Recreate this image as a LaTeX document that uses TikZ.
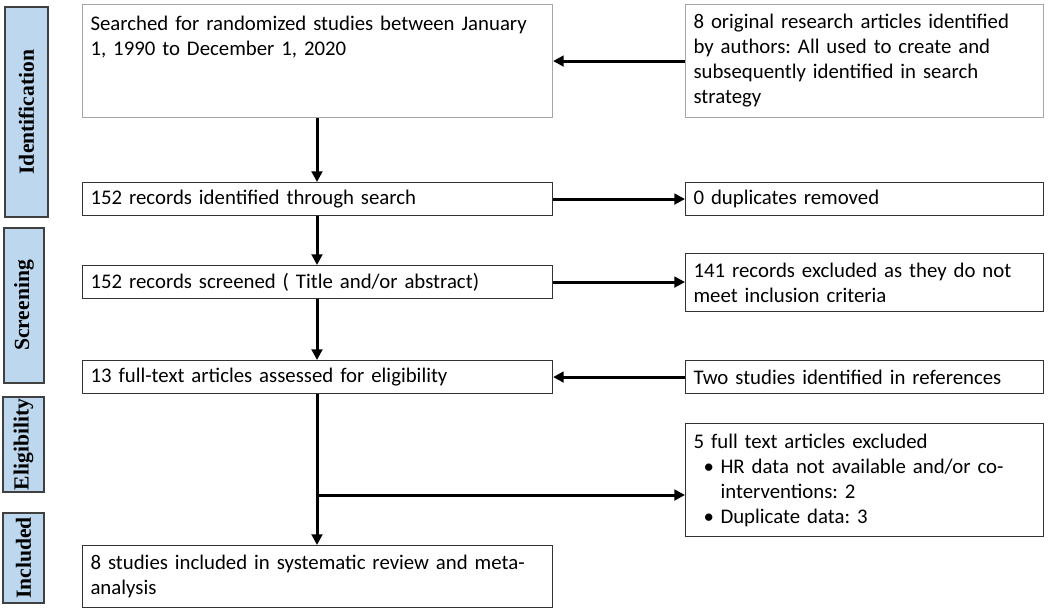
\documentclass[tikz,border=0pt]{standalone}
\usepackage{fontspec}
\setmainfont{Carlito}
\newfontfamily\sidefont{Liberation Serif}
\usetikzlibrary{arrows.meta, positioning}
\definecolor{phaseblue}{HTML}{BDD7EE}
\definecolor{lightline}{HTML}{A6A6A6}
\frenchspacing

\begin{document}
\begin{tikzpicture}[x=0.75pt, y=-0.75pt,
        box/.style={draw=black!80, line width=0.8pt, anchor=north west, align=left,
            inner xsep=6pt, inner ysep=0pt, font=\fontsize{15.6}{18.75}\selectfont},
        lbox/.style={box, text width=340.5pt, minimum height=24.75pt},
        rbox/.style={box, text width=256.5pt, minimum height=24.75pt},
        phase/.style={draw=black!75, line width=0.8pt, fill=phaseblue, rotate=90,
            inner sep=0pt, font=\sidefont\bfseries\fontsize{16.2}{18}\selectfont},
        arr/.style={line width=2.25pt, -{Triangle[length=8pt, width=8pt]}}]
        \useasboundingbox (0,0) rectangle (1050,612);

        % phases
        \node (lid) [phase, minimum width=157.5pt, minimum height=32.25pt] at (26.5,112) {Identification};
        \node (lscr) [phase, minimum width=116.25pt, minimum height=30pt] at (24,305.5) {Screening};
        \node (lelig) [phase, minimum width=71.25pt, minimum height=30.75pt] at (23.5,444.5) {Eligibility};
        \node (linc) [phase, minimum width=67.5pt, minimum height=30.75pt] at (23.5,558) {Included};

        % main column
        \node (srch) [lbox, draw=lightline, minimum height=84.75pt] at (82,4)
            {Searched for randomized studies between January\\1, 1990 to December 1, 2020\\\mbox{}\\\mbox{}};
        \node (ident) [lbox] at (82,182) {152 records identified through search};
        \node (screen) [lbox] at (82,265) {152 records screened ( Title and/or abstract)};
        \node (full) [lbox] at (82,360) {13 full-text articles assessed for eligibility};
        \node (incl) [lbox, minimum height=46.5pt] at (82,545)
            {8 studies included in systematic review and meta-\\analysis};

        % side column
        \node (orig) [rbox, draw=lightline, minimum height=84.75pt] at (685,4)
            {8 original research articles identified\\by authors: All used to create and\\subsequently identified in search\\strategy};
        \node (dup) [rbox] at (685,182) {0 duplicates removed};
        \node (excl) [rbox, minimum height=43.5pt] at (685,253)
            {141 records excluded as they do not\\meet inclusion criteria};
        \node (refs) [rbox] at (685,360) {Two studies identified in references};
        \node (ftex) [rbox, minimum height=84.75pt] at (685,423)
            {5 full text articles excluded\\
             \hspace*{7.5pt}\makebox[12.75pt][l]{\textbullet}HR data not available and/or co-\\
             \hspace*{20.25pt}interventions: 2\\
             \hspace*{7.5pt}\makebox[12.75pt][l]{\textbullet}Duplicate data: 3};

        \coordinate (mid) at (317,0);
        \coordinate (br) at (317,495);

        \draw [arr] (orig.west) -- (srch.east);
        \draw [arr] (srch.south -| mid) -- (ident.north -| mid);
        \draw [arr] (ident.east) -- (dup.west);
        \draw [arr] (ident.south -| mid) -- (screen.north -| mid);
        \draw [arr] (screen.east) -- (screen.east -| excl.west);
        \draw [arr] (screen.south -| mid) -- (full.north -| mid);
        \draw [arr] (refs.west) -- (full.east);
        \draw [arr] (full.south -| mid) -- (incl.north -| mid);
        \draw [arr] (br) -- (br -| ftex.west);
\end{tikzpicture}
\end{document}
